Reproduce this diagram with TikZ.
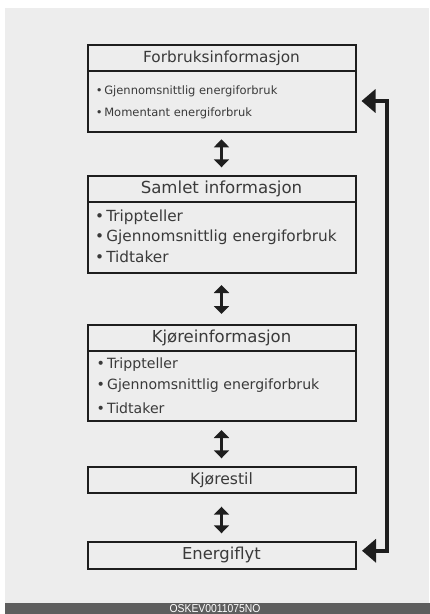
\documentclass[tikz,border=0pt]{standalone}
\usepackage{fontspec}
\usepackage{graphicx}
\setmainfont{DejaVu Sans}
\newfontfamily\codefont{Liberation Sans}
\usetikzlibrary{arrows.meta,calc}
\definecolor{panel}{HTML}{EDEDED}
\definecolor{bar}{HTML}{5E5E5E}
\definecolor{ink}{HTML}{3A3A3A}
\definecolor{edge}{HTML}{1E1E1E}
\newcommand\bdot{\makebox[0.74em][l]{•}}
\begin{document}
\begin{tikzpicture}[x=1pt,y=-1pt,
  box/.style={draw=edge,line width=2pt,outer sep=0pt,inner sep=0pt,minimum width=268pt,text=ink,fill=panel},
  ttl/.style={font=\fontsize{#1}{18}\selectfont},
  bul/.style={anchor=base west,inner sep=0pt,text=ink},
  dbl/.style={draw=edge,line width=2.7pt,{Triangle[length=8pt,width=15pt]}-{Triangle[length=8pt,width=15pt]}},
  fb/.style={draw=edge,line width=4.5pt,line join=miter,{Triangle[length=14pt,width=23pt]}-{Triangle[length=14pt,width=23pt]}}]
\useasboundingbox (0,0) rectangle (430,614);
\fill[white] (0,0) rectangle (430,614);
\fill[panel] (5,7.5) rectangle (429,603);
\fill[bar] (5,603) rectangle (430,614);
\node[text=white,font=\codefont\fontsize{11.5}{12}\selectfont,inner sep=0pt,xscale=0.9] (code) at (215,608.3) {OSKEV0011075NO};

% box 1
\node[box,ttl=15.3,minimum height=26pt] (b1t) at (221.5,58) {Forbruksinformasjon};
\node[box,minimum height=61pt] (b1b) at (221.5,101.5) {};
\node[bul,font=\fontsize{11.5}{13}\selectfont] (b1x) at (95.6,94.8) {\bdot Gjennomsnittlig energiforbruk};
\node[bul,font=\fontsize{11.5}{13}\selectfont] (b1y) at (95.6,116.8) {\bdot Momentant energiforbruk};

% box 2
\node[box,ttl=16.6,minimum height=26pt] (b2t) at (221.5,189) {Samlet informasjon};
\node[box,minimum height=70.5pt] (b2b) at (221.5,237.25) {};
\node[bul,font=\fontsize{15.3}{17}\selectfont] (b2x) at (94.8,221.7) {\bdot Trippteller};
\node[bul,font=\fontsize{15.3}{17}\selectfont] (b2y) at (94.8,241) {\bdot Gjennomsnittlig energiforbruk};
\node[bul,font=\fontsize{15.3}{17}\selectfont] (b2z) at (94.8,262.7) {\bdot Tidtaker};

% box 3
\node[box,ttl=16.5,minimum height=25.5pt] (b3t) at (221.5,337.75) {Kjøreinformasjon};
\node[box,minimum height=70.5pt] (b3b) at (221.5,385.75) {};
\node[bul,font=\fontsize{14.1}{16}\selectfont] (b3x) at (96.5,368) {\bdot Trippteller};
\node[bul,font=\fontsize{14.1}{16}\selectfont] (b3y) at (96.5,389.7) {\bdot Gjennomsnittlig energiforbruk};
\node[bul,font=\fontsize{14.1}{16}\selectfont] (b3z) at (96.5,413) {\bdot Tidtaker};

% box 4 and 5
\node[box,ttl=15.6,minimum height=25.5pt] (b4) at (221.5,479.75) {Kjørestil};
\node[box,ttl=16.4,minimum height=26.5pt] (b5) at (221.5,555.25) {Energiflyt};

% double arrows
\draw[dbl] ([yshift=-7.3pt]b1b.south) -- ([yshift=8.7pt]b2t.north);
\draw[dbl] ([yshift=-12.5pt]b2b.south) -- ([yshift=11pt]b3t.north);
\draw[dbl] ([yshift=-9pt]b3b.south) -- ([yshift=8.7pt]b4.north);
\draw[dbl] ([yshift=-14.2pt]b4.south) -- ([yshift=8.7pt]b5.north);

% feedback arrow
\coordinate (t1) at ($(b1b.east)+(6,-0.5)$);
\coordinate (t2) at ($(b5.east)+(6.5,-4.5)$);
\coordinate (fx) at (387,0);
\draw[fb] (t1) -- (t1 -| fx) -- (t2 -| fx) -- (t2);
\end{tikzpicture}
\end{document}
